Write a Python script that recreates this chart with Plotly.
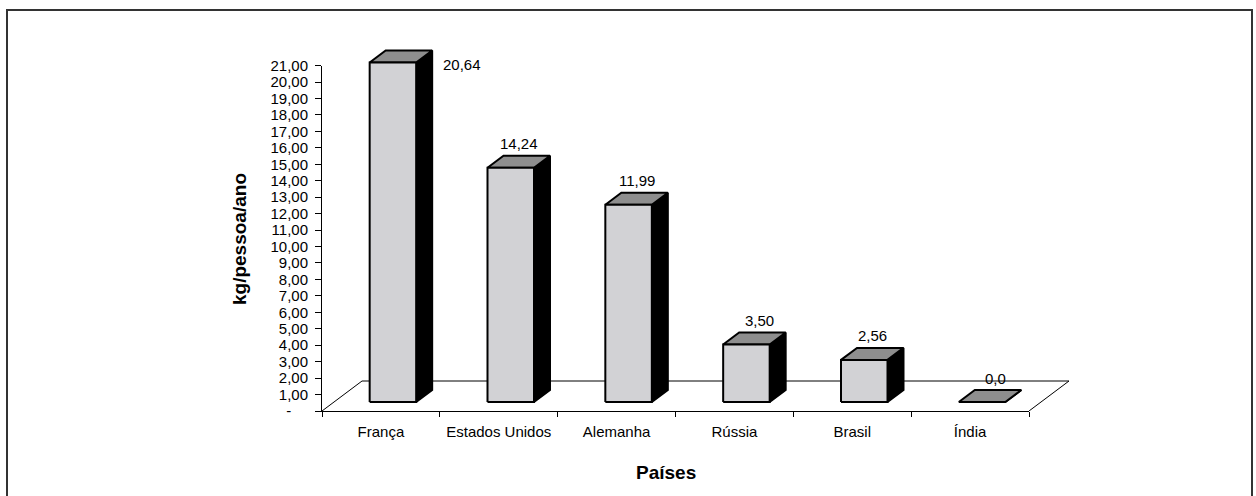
import plotly.graph_objects as go

# ---------------- data ----------------
CATEGORIES = ["França", "Estados Unidos", "Alemanha", "Rússia", "Brasil", "Índia"]
VALUES = [20.64, 14.24, 11.99, 3.50, 2.56, 0.0]
VALUE_LABELS = ["20,64", "14,24", "11,99", "3,50", "2,56", "0,0"]
Y_TICK_VALUES = list(range(0, 22))
Y_TICK_LABELS = ["-\u00a0\u00a0\u00a0\u00a0"] + [f"{v},00" for v in range(1, 22)]
Y_TITLE = "kg/pessoa/ano"
X_TITLE = "Países"

# ---------------- layout geometry (pixels) ----------------
W, H = 1256, 496
AX_LEFT, AX_RIGHT = 322, 1029
AX_BOTTOM, AX_TOP = 411, 65.55
N = len(CATEGORIES)
YMAX = 21
PXC = (AX_RIGHT - AX_LEFT) / N          # px per category
PXV = (AX_BOTTOM - AX_TOP) / YMAX       # px per value unit
MARK_RIGHT, MARK_TOP = 1100, 28

FLOOR_DX_PX, FLOOR_DY_PX = 40, 30
FRONT_FRAC, BACK_FRAC = 0.3, 0.7
BAR_W_PX = 46.5

FDX = FLOOR_DX_PX / PXC
FDY = FLOOR_DY_PX / PXV
FX, FY = FRONT_FRAC * FDX, FRONT_FRAC * FDY
BX, BY = BACK_FRAC * FDX, BACK_FRAC * FDY
HW = BAR_W_PX / 2 / PXC

FONT = "Liberation Sans, Arial, sans-serif"
FRONT_COLOR = "#D2D2D5"
TOP_COLOR = "#8E8E8E"
SIDE_COLOR = "#000000"
LABEL_NUDGE = {"França": (61, -14), "Rússia": (5, 12), "Índia": (5, 12)}


def fxp(px):
    return px / W


def fyp(py):
    return 1 - py / H


def polys(builder):
    xs, ys = [], []
    for i, v in enumerate(VALUES):
        px, py = builder(i, v)
        xs += px + [px[0], None]
        ys += py + [py[0], None]
    return xs, ys


def front(i, v):
    return ([i + FX - HW, i + FX + HW, i + FX + HW, i + FX - HW],
            [FY, FY, FY + v, FY + v])


def top(i, v):
    return ([i + FX - HW, i + FX + HW, i + BX + HW, i + BX - HW],
            [FY + v, FY + v, BY + v, BY + v])


def side(i, v):
    return ([i + FX + HW, i + BX + HW, i + BX + HW, i + FX + HW],
            [FY, BY, BY + v, FY + v])


fig = go.Figure()

# dummy trace so the axis subplot is drawn
fig.add_trace(go.Scatter(x=[-0.5], y=[0], mode="none", hoverinfo="skip",
                         showlegend=False, xaxis="x", yaxis="y"))

# floor outline
fig.add_trace(go.Scatter(
    x=[-0.5, -0.5 + FDX, N - 0.5 + FDX, N - 0.5],
    y=[0, FDY, FDY, 0],
    mode="lines", line=dict(color="#000", width=1),
    hoverinfo="skip", showlegend=False, xaxis="x2", yaxis="y2"))

for builder, color in ((side, SIDE_COLOR), (top, TOP_COLOR), (front, FRONT_COLOR)):
    xs, ys = polys(builder)
    fig.add_trace(go.Scatter(
        x=xs, y=ys, mode="lines", fill="toself", fillcolor=color,
        line=dict(color="#000", width=2), hoverinfo="skip",
        showlegend=False, xaxis="x2", yaxis="y2"))

annotations = []
for i, (c, v, t) in enumerate(zip(CATEGORIES, VALUES, VALUE_LABELS)):
    dx, dy = LABEL_NUDGE.get(c, (0, 12))
    annotations.append(dict(
        x=i + (FX + BX) / 2, y=BY + v, xref="x2", yref="y2", text=t,
        showarrow=False, xshift=dx, yshift=dy, xanchor="center", yanchor="middle",
        font=dict(family=FONT, size=15, color="#000")))

annotations.append(dict(
    x=fxp(239), y=fyp(239), xref="paper", yref="paper", text=f"<b>{Y_TITLE}</b>",
    textangle=-90, showarrow=False, xanchor="center", yanchor="middle",
    font=dict(family=FONT, size=19, color="#000")))
annotations.append(dict(
    x=fxp(666), y=fyp(472), xref="paper", yref="paper", text=f"<b>{X_TITLE}</b>",
    showarrow=False, xanchor="center", yanchor="middle",
    font=dict(family=FONT, size=19, color="#000")))

fig.update_layout(
    width=W, height=H, autosize=False,
    margin=dict(l=0, r=0, t=0, b=0, pad=0, autoexpand=False),
    paper_bgcolor="white", plot_bgcolor="rgba(0,0,0,0)",
    showlegend=False,
    font=dict(family=FONT, size=15, color="#000"),
    xaxis=dict(
        domain=[fxp(AX_LEFT), fxp(AX_RIGHT)], range=[-0.5, N - 0.5],
        anchor="y", showline=True, linecolor="#000", linewidth=1,
        tickmode="array", tickvals=list(range(N)), ticktext=CATEGORIES,
        ticks="", ticklabelstandoff=7, automargin=False,
        minor=dict(tickmode="array", tickvals=[i - 0.5 for i in range(N + 1)],
                   ticks="outside", ticklen=5, tickwidth=1, tickcolor="#000",
                   showgrid=False),
        showgrid=False, zeroline=False, fixedrange=True,
        tickfont=dict(family=FONT, size=15, color="#000")),
    yaxis=dict(
        domain=[fyp(AX_BOTTOM), fyp(AX_TOP)], range=[0, YMAX],
        anchor="x", showline=True, linecolor="#000", linewidth=1,
        tickmode="array", tickvals=Y_TICK_VALUES, ticktext=Y_TICK_LABELS,
        ticks="outside", ticklen=6, tickwidth=1, tickcolor="#000",
        ticklabelstandoff=4, automargin=False,
        showgrid=False, zeroline=False, fixedrange=True,
        tickfont=dict(family=FONT, size=15, color="#000")),
    xaxis2=dict(
        domain=[fxp(AX_LEFT), fxp(MARK_RIGHT)],
        range=[-0.5, -0.5 + (MARK_RIGHT - AX_LEFT) / PXC],
        anchor="y2", visible=False, fixedrange=True),
    yaxis2=dict(
        domain=[fyp(AX_BOTTOM), fyp(MARK_TOP)],
        range=[0, (AX_BOTTOM - MARK_TOP) / PXV],
        anchor="x2", visible=False, fixedrange=True),
    annotations=annotations,
    shapes=[dict(type="rect", xref="paper", yref="paper",
                 x0=fxp(7), x1=fxp(1252), y0=-0.05, y1=fyp(10),
                 line=dict(color="#333", width=2), fillcolor="rgba(0,0,0,0)")],
)

fig.write_html(
    "out.html",
    config={"displayModeBar": False, "staticPlot": True},
    post_script="document.body.style.margin='0';document.body.style.overflow='hidden';",
)
